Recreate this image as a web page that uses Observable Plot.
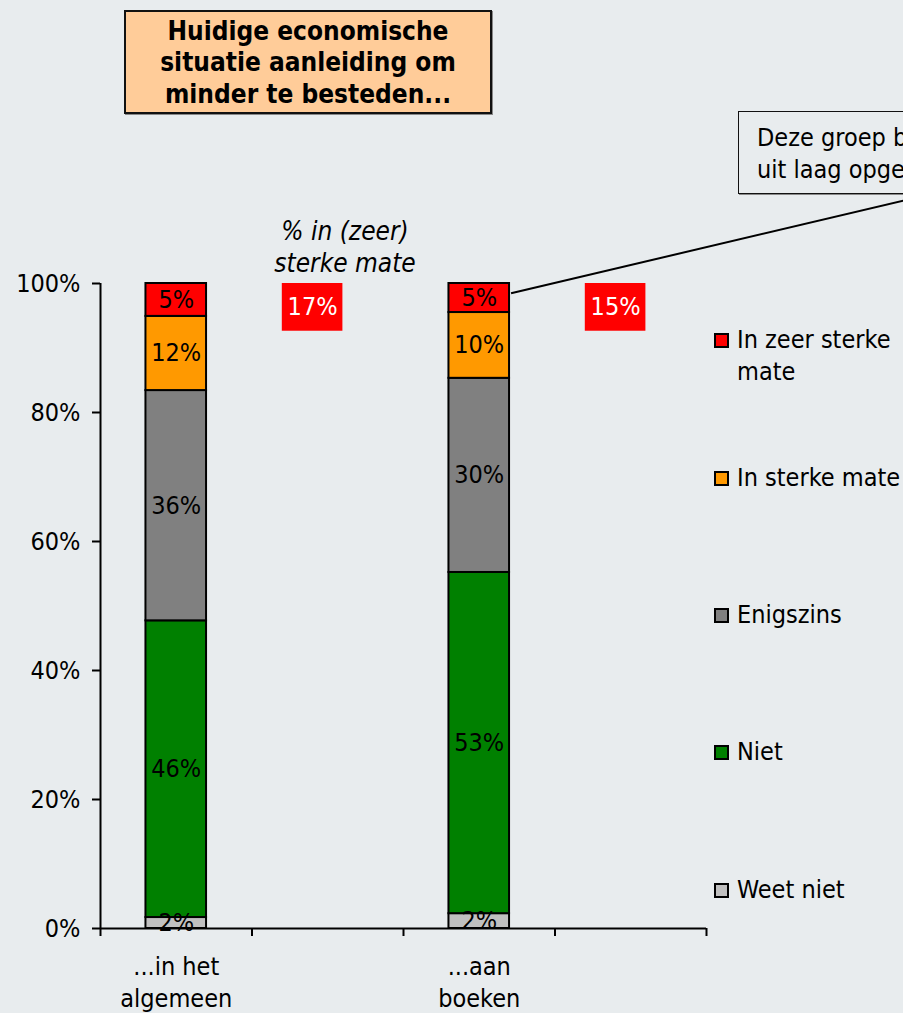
<!DOCTYPE html>
<html>
<head>
<meta charset="utf-8">
<script src="https://cdn.jsdelivr.net/npm/d3@7"></script>
<script src="https://cdn.jsdelivr.net/npm/@observablehq/plot@0.6"></script>
<style>
  html, body { margin: 0; padding: 0; background: #e8ecee; overflow: hidden; }
  #wrap { position: relative; width: 903px; height: 1013px; overflow: hidden; background: #e8ecee;
          font-family: "DejaVu Sans Condensed", "DejaVu Sans", sans-serif; color: #000; }
  #chart { position: absolute; left: 0; top: 0; }
  .abs { position: absolute; }
  #title { left: 124px; top: 10px; width: 364px; height: 98px; background: #ffcc99;
           border: 2px solid #111; box-shadow: 1px 1px 0 #888; font-weight: bold; font-size: 26px;
           line-height: 31.5px; text-align: center; display: flex; align-items: center; justify-content: center; padding-top: 2px; box-sizing: content-box; }
  #note { left: 738px; top: 111px; width: 320px; height: 83px; border: 1.5px solid #111;
          box-shadow: 1px 1px 0 #888; font-size: 25px; line-height: 32px; padding: 10px 0 0 18px; box-sizing: border-box; white-space: nowrap; }
  #italic { left: 235px; top: 215px; width: 220px; text-align: center; font-style: italic; font-size: 26px; line-height: 32px; }
  .leg { position: absolute; left: 714px; font-size: 25px; line-height: 32px; white-space: nowrap; }
  .sw { position: absolute; left: 0; width: 11px; height: 11px; border: 2px solid #000; }
  .lt { position: absolute; left: 23px; }
</style>
</head>
<body>
<div id="wrap">
  <div id="chart"></div>
  <div id="title" class="abs"></div>
  <div id="note" class="abs"></div>
  <div id="italic" class="abs"></div>
  <div id="legend"></div>
</div>
<script>
// ---- data ----
const categories = ["...in het algemeen", "...aan boeken"];
const categoryLines = ["...in het\nalgemeen", "...aan\nboeken"];
const series = ["Weet niet", "Niet", "Enigszins", "In sterke mate", "In zeer sterke mate"];
const valuesAlgemeen = [1.7, 46.0, 35.7, 11.5, 5.1];
const valuesBoeken = [2.3, 52.9, 30.1, 10.2, 4.5];
const labelsAlgemeen = ["2%", "46%", "36%", "12%", "5%"];
const labelsBoeken = ["2%", "53%", "30%", "10%", "5%"];
const sterkTotals = ["17%", "15%"];
const seriesColors = ["#c0c0c0", "#008000", "#808080", "#ff9900", "#ff0000"];
const yTicks = [0, 20, 40, 60, 80, 100];
const xSlotTicks = [0, 1, 2, 3, 4];
const titleText = ["Huidige economische", "situatie aanleiding om", "minder te besteden..."];
const noteText = ["Deze groep bestaat vooral", "uit laag opgeleiden"];
const italicText = ["% in (zeer)", "sterke mate"];
const legendLines = [["In zeer sterke", "mate"], ["In sterke mate"], ["Enigszins"], ["Niet"], ["Weet niet"]];

// ---- build table ----
const allValues = [valuesAlgemeen, valuesBoeken];
const allLabels = [labelsAlgemeen, labelsBoeken];
const slotOf = i => i * 2 + 0.5;   // each category followed by an empty slot
const rows = [];
categories.forEach((c, i) => {
  let cum = 0;
  series.forEach((s, j) => {
    const v = allValues[i][j];
    rows.push({category: c, pos: slotOf(i), series: s, y1: cum, y2: cum + v,
               label: allLabels[i][j], color: seriesColors[j]});
    cum += v;
  });
});
const cats = categories.map((c, i) => ({category: c, pos: slotOf(i), lines: categoryLines[i], total: sterkTotals[i],
  top: 100, boxBottom: 92.6, mid: 96.3}));

const half = 0.2;
const FS = 25;
const chart = Plot.plot({
  width: 903, height: 1013,
  marginLeft: 100, marginRight: 197, marginTop: 283, marginBottom: 85,
  style: {background: "transparent", fontFamily: "'DejaVu Sans Condensed', 'DejaVu Sans', sans-serif",
          fontSize: FS + "px", color: "#000", overflow: "visible"},
  x: {type: "linear", domain: [0, 4], axis: null},
  y: {type: "linear", domain: [0, 100], axis: null},
  marks: [
    Plot.rect(rows, {x1: d => d.pos - half, x2: d => d.pos + half, y1: "y1", y2: "y2",
      fill: "color", stroke: "#000", strokeWidth: 2}),
    Plot.text(rows, {x: "pos", y: d => (d.y1 + d.y2) / 2, text: "label", fill: "#000",
      fontSize: FS, lineAnchor: "middle"}),
    // red summary boxes
    Plot.rect(cats, {x1: d => d.pos + 0.7, x2: d => d.pos + 1.1, y1: "top", y2: "boxBottom", fill: "#ff0000"}),
    Plot.text(cats, {x: d => d.pos + 0.9, y: "mid", text: "total", fill: "#fff", fontSize: FS, lineAnchor: "middle"}),
    // connector to note
    Plot.link([cats[1]], {x1: d => d.pos + half + 0.01, y1: () => 98.5, x2: () => 5.33, y2: () => 113,
      stroke: "#000", strokeWidth: 2, clip: false}),
    // axes
    Plot.ruleX([0], {y1: () => 0, y2: () => 100, stroke: "#000", strokeWidth: 2}),
    Plot.ruleY([0], {x1: () => 0, x2: () => 4, stroke: "#000", strokeWidth: 2}),
    Plot.axisY({ticks: yTicks, tickFormat: d => d + "%", tickSize: 8, tickPadding: 12,
      fontSize: FS, stroke: "#000", strokeWidth: 2, color: "#000", label: null}),
    Plot.axisX({ticks: xSlotTicks, tickFormat: () => "", tickSize: 8, stroke: "#000", strokeWidth: 2, label: null}),
    Plot.text(cats, {x: "pos", y: () => 0, text: "lines", dy: 52, fontSize: FS, lineHeight: 1.27,
      lineAnchor: "middle", fill: "#000"})
  ]
});
document.getElementById("chart").appendChild(chart);

document.getElementById("title").innerHTML = "<div>" + titleText.join("<br>") + "</div>";
document.getElementById("note").innerHTML = noteText.join("<br>");
document.getElementById("italic").innerHTML = italicText.join("<br>");

const legendTops = [340, 478, 615, 752, 890];
const leg = document.getElementById("legend");
series.slice().reverse().forEach((s, k) => {
  const j = series.length - 1 - k;
  const item = document.createElement("div");
  item.className = "leg";
  item.style.top = (legendTops[k] - 16) + "px";
  const sw = document.createElement("div");
  sw.className = "sw";
  sw.style.background = seriesColors[j];
  sw.style.top = "9px";
  const t = document.createElement("div");
  t.className = "lt";
  t.innerHTML = legendLines[k].join("<br>");
  item.appendChild(sw); item.appendChild(t);
  leg.appendChild(item);
});
</script>
</body>
</html>
